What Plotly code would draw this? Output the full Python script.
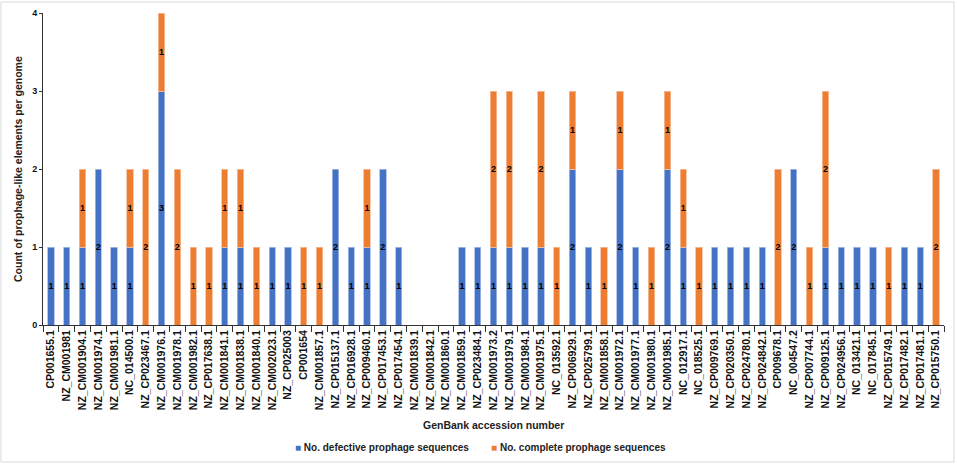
import plotly.graph_objects as go

categories = [
    "CP001655.1", "NZ_CM001981", "NZ_CM001904.1", "NZ_CM001974.1", "NZ_CM001981.1",
    "NC_014500.1", "NZ_CP023467.1", "NZ_CM001976.1", "NZ_CM001978.1", "NZ_CM001982.1",
    "NZ_CP017638.1", "NZ_CM001841.1", "NZ_CM001838.1", "NZ_CM001840.1", "NZ_CM002023.1",
    "NZ_CP025003", "CP001654", "NZ_CM001857.1", "NZ_CP015137.1", "NZ_CP016928.1",
    "NZ_CP009460.1", "NZ_CP017453.1", "NZ_CP017454.1", "NZ_CM001839.1", "NZ_CM001842.1",
    "NZ_CM001860.1", "NZ_CM001859.1", "NZ_CP023484.1", "NZ_CM001973.2", "NZ_CM001979.1",
    "NZ_CM001984.1", "NZ_CM001975.1", "NC_013592.1", "NZ_CP006929.1", "NZ_CP025799.1",
    "NZ_CM001858.1", "NZ_CM001972.1", "NZ_CM001977.1", "NZ_CM001980.1", "NZ_CM001985.1",
    "NC_012917.1", "NC_018525.1", "NZ_CP009769.1", "NZ_CP020350.1", "NZ_CP024780.1",
    "NZ_CP024842.1", "CP009678.1", "NC_004547.2", "NZ_CP007744.1", "NZ_CP009125.1",
    "NZ_CP024956.1", "NC_013421.1", "NC_017845.1", "NZ_CP015749.1", "NZ_CP017482.1",
    "NZ_CP017481.1", "NZ_CP015750.1",
]

defective = [
    1, 1, 1, 2, 1,
    1, 0, 3, 0, 0,
    0, 1, 1, 0, 1,
    1, 0, 0, 2, 1,
    1, 2, 1, 0, 0,
    0, 1, 1, 1, 1,
    1, 1, 0, 2, 1,
    0, 2, 1, 0, 2,
    1, 0, 1, 1, 1,
    1, 0, 2, 0, 1,
    1, 1, 1, 0, 1,
    1, 0,
]

complete = [
    0, 0, 1, 0, 0,
    1, 2, 1, 2, 1,
    1, 1, 1, 1, 0,
    0, 1, 1, 0, 0,
    1, 0, 0, 0, 0,
    0, 0, 0, 2, 2,
    0, 2, 1, 1, 0,
    1, 1, 0, 1, 1,
    1, 1, 0, 0, 0,
    0, 2, 0, 1, 2,
    0, 0, 0, 1, 0,
    0, 2,
]

y_ticks = [0, 1, 2, 3, 4]

series_names = ["No. defective prophage sequences", "No. complete prophage sequences"]

BLUE = "#4472C4"
ORANGE = "#ED7D31"
FONT = "Liberation Sans"

W, H = 957, 465
L, R, T, B = 43, 13, 13, 140
pw = W - L - R
ph = H - T - B


def px_x(x):
    return (x - L) / pw


def px_y(y):
    return (H - B - y) / ph


def nz(vals):
    return [v if v else None for v in vals]


def labels(vals):
    return [str(v) if v else "" for v in vals]


fig = go.Figure()
for vals, name, col, edge in [
    (defective, series_names[0], BLUE, "#A9BCE6"),
    (complete, series_names[1], ORANGE, "#F6BE98"),
]:
    fig.add_trace(go.Bar(
        x=categories, y=nz(vals), name=name,
        marker=dict(color=col, line=dict(color=edge, width=0.8)),
        text=labels(vals), textposition="inside", insidetextanchor="middle",
        textangle=0, constraintext="none",
        textfont=dict(family=FONT, size=9, color="black", weight="bold"),
        showlegend=False,
    ))

legend_text = (
    f"<span style='color:{BLUE}'>■</span> {series_names[0]}"
    f"        <span style='color:{ORANGE}'>■</span> {series_names[1]}"
)

fig.update_layout(
    width=W, height=H,
    margin=dict(l=L, r=R, t=T, b=B, pad=0),
    barmode="stack", bargap=0.6,
    plot_bgcolor="white", paper_bgcolor="white",
    font=dict(family=FONT, color="#222222"),
    xaxis=dict(
        type="category", tickangle=-90, showgrid=False, automargin=False,
        showline=True, linecolor="#333333", linewidth=1,
        ticks="outside", tickson="boundaries", ticklen=6, tickcolor="#333333",
        tickfont=dict(family=FONT, size=10.5, color="#111111", weight="bold"),
        range=[-0.5, len(categories) - 0.5],
    ),
    yaxis=dict(
        range=[0, 4], tickvals=y_ticks, showgrid=False, zeroline=False, automargin=False,
        showline=True, linecolor="#333333", linewidth=1,
        ticks="outside", ticklen=3, tickcolor="#333333",
        tickfont=dict(family=FONT, size=9, color="#111111", weight="bold"),
    ),
    annotations=[
        dict(text="GenBank accession number", xref="paper", yref="paper",
             x=0.5, y=px_y(425), xanchor="center", yanchor="middle", showarrow=False,
             font=dict(family=FONT, size=10.5, color="#222222", weight="bold")),
        dict(text="Count of prophage-like elements per genome", xref="paper", yref="paper",
             x=px_x(18), y=px_y(169), xanchor="center", yanchor="middle", showarrow=False,
             textangle=-90,
             font=dict(family=FONT, size=10.5, color="#222222", weight="bold")),
        dict(text=legend_text, xref="paper", yref="paper",
             x=px_x(480), y=px_y(447), xanchor="center", yanchor="middle", showarrow=False,
             font=dict(family=FONT, size=10, color="#222222", weight="bold")),
    ],
    shapes=[
        dict(type="rect", xref="paper", yref="paper",
             x0=px_x(1), x1=px_x(954), y0=px_y(462), y1=px_y(2),
             line=dict(color="#D9D9D9", width=1), fillcolor="rgba(0,0,0,0)", layer="below"),
    ],
)

fig.write_html(
    "out.html",
    config={"displayModeBar": False},
    post_script="document.body.style.margin='0';document.body.style.overflow='hidden';",
)
